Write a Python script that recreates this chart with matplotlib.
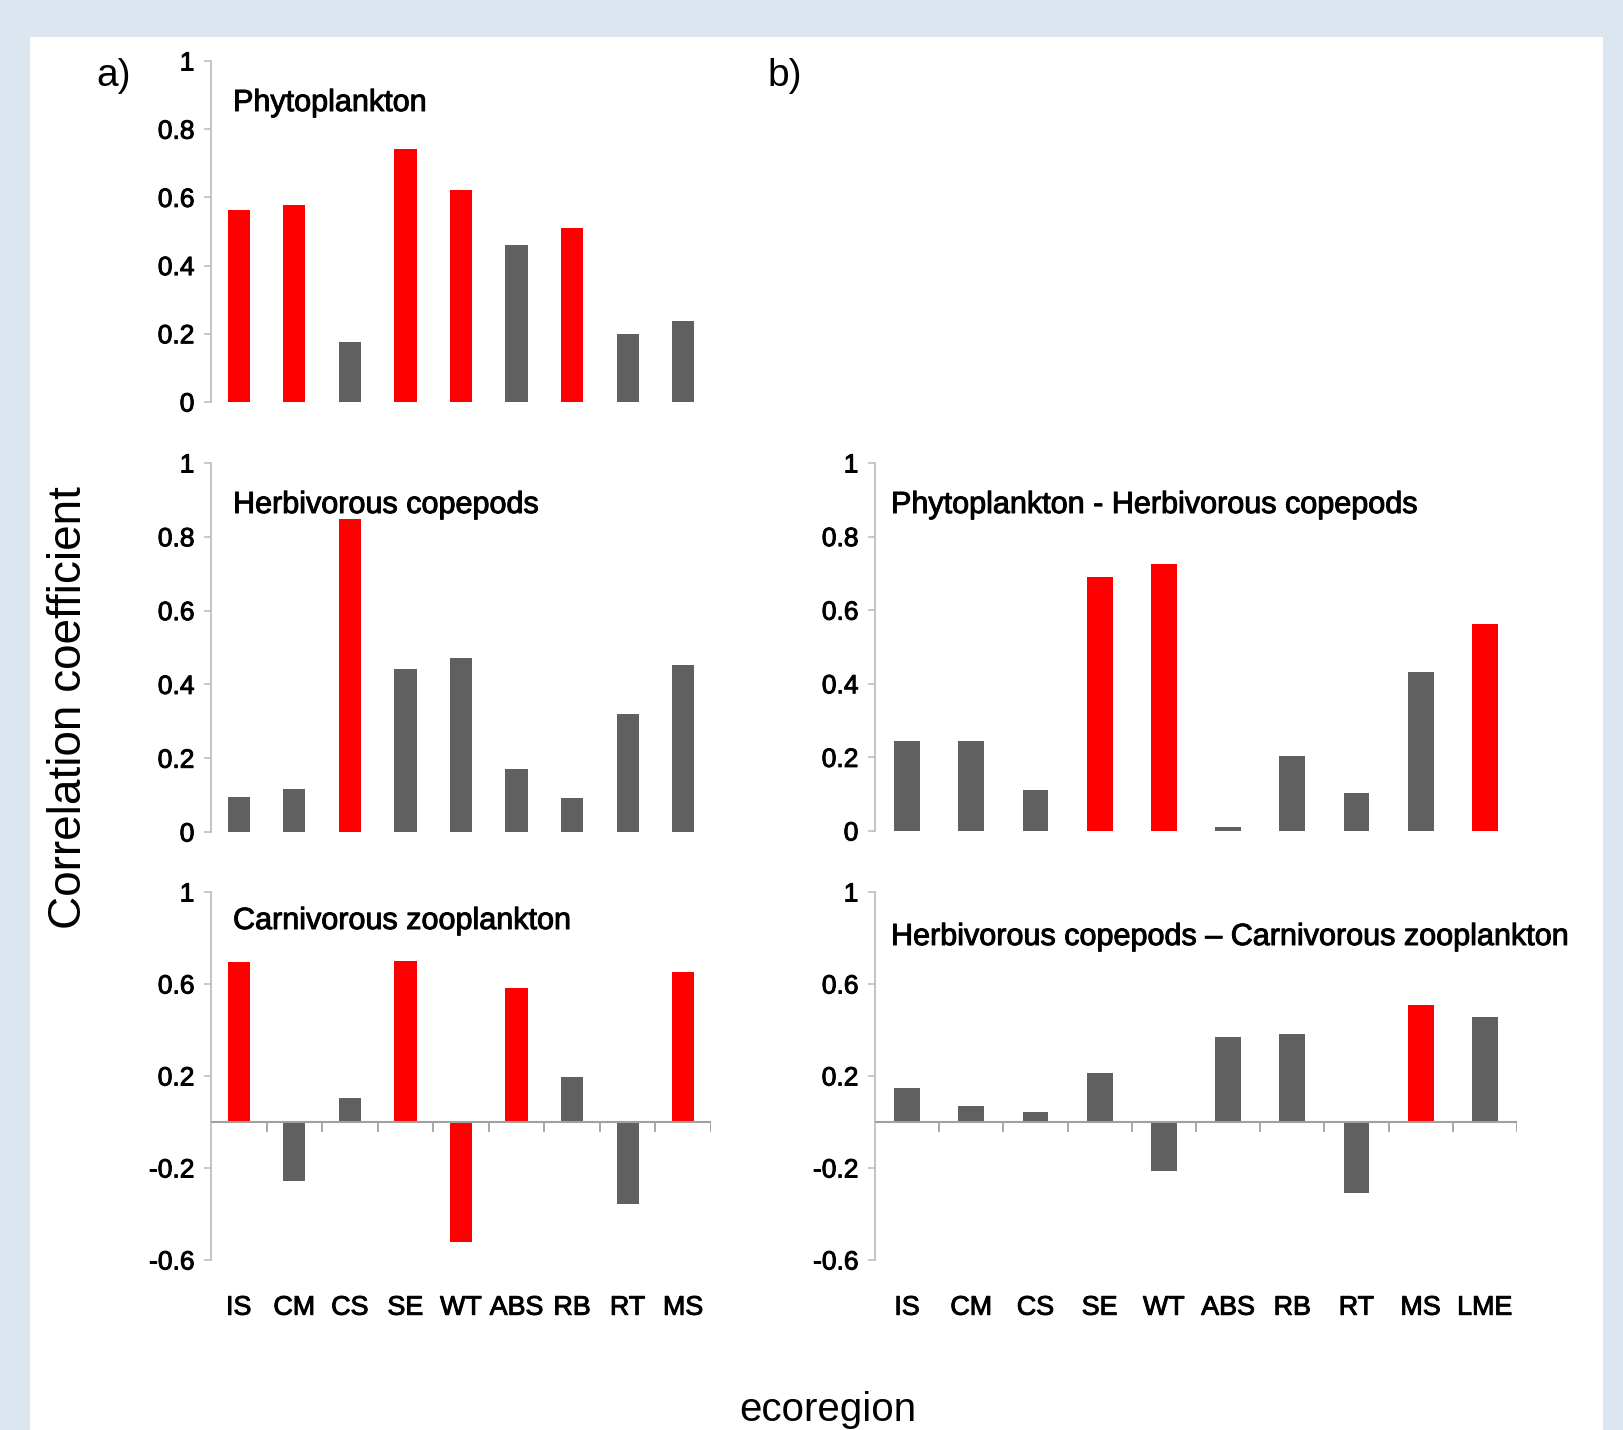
import numpy as np
import matplotlib
matplotlib.use('Agg')
import matplotlib.pyplot as plt
import matplotlib.patheffects as pe
from matplotlib import font_manager
from matplotlib.patches import Rectangle

regions9 = ['IS', 'CM', 'CS', 'SE', 'WT', 'ABS', 'RB', 'RT', 'MS']
regions10 = ['IS', 'CM', 'CS', 'SE', 'WT', 'ABS', 'RB', 'RT', 'MS', 'LME']

phyto = [0.563, 0.578, 0.176, 0.741, 0.622, 0.459, 0.509, 0.198, 0.239]
phyto_sig = [1, 1, 0, 1, 1, 0, 1, 0, 0]

herb = [0.095, 0.117, 0.847, 0.442, 0.471, 0.170, 0.092, 0.320, 0.453]
herb_sig = [0, 0, 1, 0, 0, 0, 0, 0, 0]

carn = [0.697, -0.256, 0.103, 0.702, -0.522, 0.581, 0.197, -0.356, 0.654]
carn_sig = [1, 0, 0, 1, 1, 1, 0, 0, 1]

phyto_herb = [0.244, 0.244, 0.111, 0.689, 0.725, 0.012, 0.205, 0.102, 0.432, 0.562]
phyto_herb_sig = [0, 0, 0, 1, 1, 0, 0, 0, 0, 1]

herb_carn = [0.149, 0.070, 0.042, 0.213, -0.211, 0.368, 0.382, -0.308, 0.510, 0.458]
herb_carn_sig = [0, 0, 0, 0, 0, 0, 0, 0, 1, 0]

pos_ticks = [0, 0.2, 0.4, 0.6, 0.8, 1]
pos_labels = ['0', '0.2', '0.4', '0.6', '0.8', '1']
neg_ticks = [-0.6, -0.2, 0.2, 0.6, 1]
neg_labels = ['-0.6', '-0.2', '0.2', '0.6', '1']

RED = '#ff0000'
GREY = '#606060'
SPINE = '#bfbfbf'

W, H = 1623, 1430

names = {f.name for f in font_manager.fontManager.ttflist}
if 'Liberation Sans Narrow' in names:
    NARROW = 'Liberation Sans Narrow'
    nscale = 1.0
else:
    NARROW = 'Liberation Sans'
    nscale = 0.84
REG = 'Liberation Sans'

# the source text looks a little heavier than plain Liberation Sans
heavy = [pe.withStroke(linewidth=0.7, foreground='black')]


def box(left, top, right, bottom):
    return [left / W, 1 - bottom / H, (right - left) / W, (bottom - top) / H]


def ftext(x, y, s, **kw):
    fig.text(x / W, 1 - y / H, s, **kw)


def bar_panel(ax, values, sig, cats, ticks, labels, ylim, show_x):
    x = np.arange(len(values))
    colors = [RED if s else GREY for s in sig]
    ax.bar(x, values, width=0.4, color=colors, zorder=2)
    ax.set_xlim(-0.5, len(values) - 0.5)
    ax.set_ylim(*ylim)
    ax.set_yticks(ticks)
    ax.set_yticklabels(labels, fontsize=19, family=REG, path_effects=heavy)
    ax.tick_params(axis='y', direction='out', length=5, width=1.2,
                   color=SPINE, pad=7)
    for side in ['top', 'right', 'bottom']:
        ax.spines[side].set_visible(False)
    ax.spines['left'].set_color(SPINE)
    ax.spines['left'].set_linewidth(1.3)
    ax.set_facecolor('none')
    if show_x:
        ax.axhline(0, color='#a0a0a0', lw=1.5, zorder=3)
        ax.vlines(x + 0.5, -0.045, 0, color='#a0a0a0', lw=1.3, zorder=3)
        ax.set_xticks(x)
        ax.set_xticklabels(cats, fontsize=23 * nscale, family=NARROW,
                           path_effects=heavy)
        ax.tick_params(axis='x', length=0, pad=25)
    else:
        ax.set_xticks([])


fig = plt.figure(figsize=(W / 100, H / 100), dpi=100)
fig.patch.set_facecolor('#dce6f1')
fig.patches.append(Rectangle((30 / W, 0), (1603 - 30) / W, 1 - 37 / H,
                             transform=fig.transFigure, facecolor='white',
                             edgecolor='none', zorder=-10))

ax_a = fig.add_axes(box(211, 61, 711, 402))
bar_panel(ax_a, phyto, phyto_sig, regions9, pos_ticks, pos_labels, (0, 1), False)

ax_b = fig.add_axes(box(211, 463, 711, 832))
bar_panel(ax_b, herb, herb_sig, regions9, pos_ticks, pos_labels, (0, 1), False)

ax_c = fig.add_axes(box(211, 892, 711, 1260))
bar_panel(ax_c, carn, carn_sig, regions9, neg_ticks, neg_labels, (-0.6, 1), True)

ax_d = fig.add_axes(box(875, 463, 1517, 831))
bar_panel(ax_d, phyto_herb, phyto_herb_sig, regions10, pos_ticks, pos_labels, (0, 1), False)

ax_e = fig.add_axes(box(875, 892, 1517, 1260))
bar_panel(ax_e, herb_carn, herb_carn_sig, regions10, neg_ticks, neg_labels, (-0.6, 1), True)

tkw = dict(fontsize=22, family=REG, va='center', ha='left', path_effects=heavy)
ftext(233, 103, 'Phytoplankton', **tkw)
ftext(233, 505, 'Herbivorous copepods', **tkw)
ftext(233, 921, 'Carnivorous zooplankton', **tkw)
ftext(891, 505, 'Phytoplankton - Herbivorous copepods', **tkw)
ftext(891, 937, 'Herbivorous copepods \u2013 Carnivorous zooplankton', **tkw)

ftext(114, 76, 'a)', fontsize=28, family=REG, va='center', ha='center')
ftext(785, 76, 'b)', fontsize=28, family=REG, va='center', ha='center')

ftext(69, 708, 'Correlation coefficient', fontsize=33, family=REG,
      rotation=90, va='center', ha='center')
ftext(828, 1410, 'ecoregion', fontsize=29, family=REG, va='center', ha='center')

fig.savefig('out.png', dpi=100, facecolor=fig.get_facecolor())
